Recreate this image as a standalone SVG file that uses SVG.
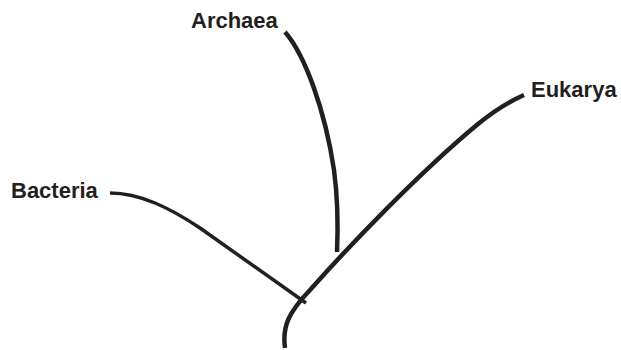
<svg xmlns="http://www.w3.org/2000/svg" width="621" height="350" viewBox="0 0 621 350">
<style>
.lbl{font-family:"Liberation Sans",Arial,sans-serif;font-weight:bold;font-size:22px;fill:#231f20}
.br{fill:none;stroke:#231f20;stroke-linecap:butt;stroke-linejoin:round}
</style>
<rect width="621" height="350" fill="#ffffff"/>
<g id="connectors">
<path class="br" stroke-width="4.5" d="M 285 348 C 282 326, 289 312, 310 290 C 350 245, 420 172, 478 124 C 494 111, 508 102, 524 95"/>
<path class="br" stroke-width="4.5" d="M 285 32 C 305 55, 325 110, 334 170 C 338 200, 338 230, 337 252"/>
<path class="br" stroke-width="3.5" d="M 110 193 C 140 193, 170 208, 200 228 L 306 303"/>
</g>
<g id="archaea"><text class="lbl" x="191" y="28">Archaea</text></g>
<g id="eukarya"><text class="lbl" x="531" y="97">Eukarya</text></g>
<g id="bacteria"><text class="lbl" x="11" y="198">Bacteria</text></g>
</svg>
